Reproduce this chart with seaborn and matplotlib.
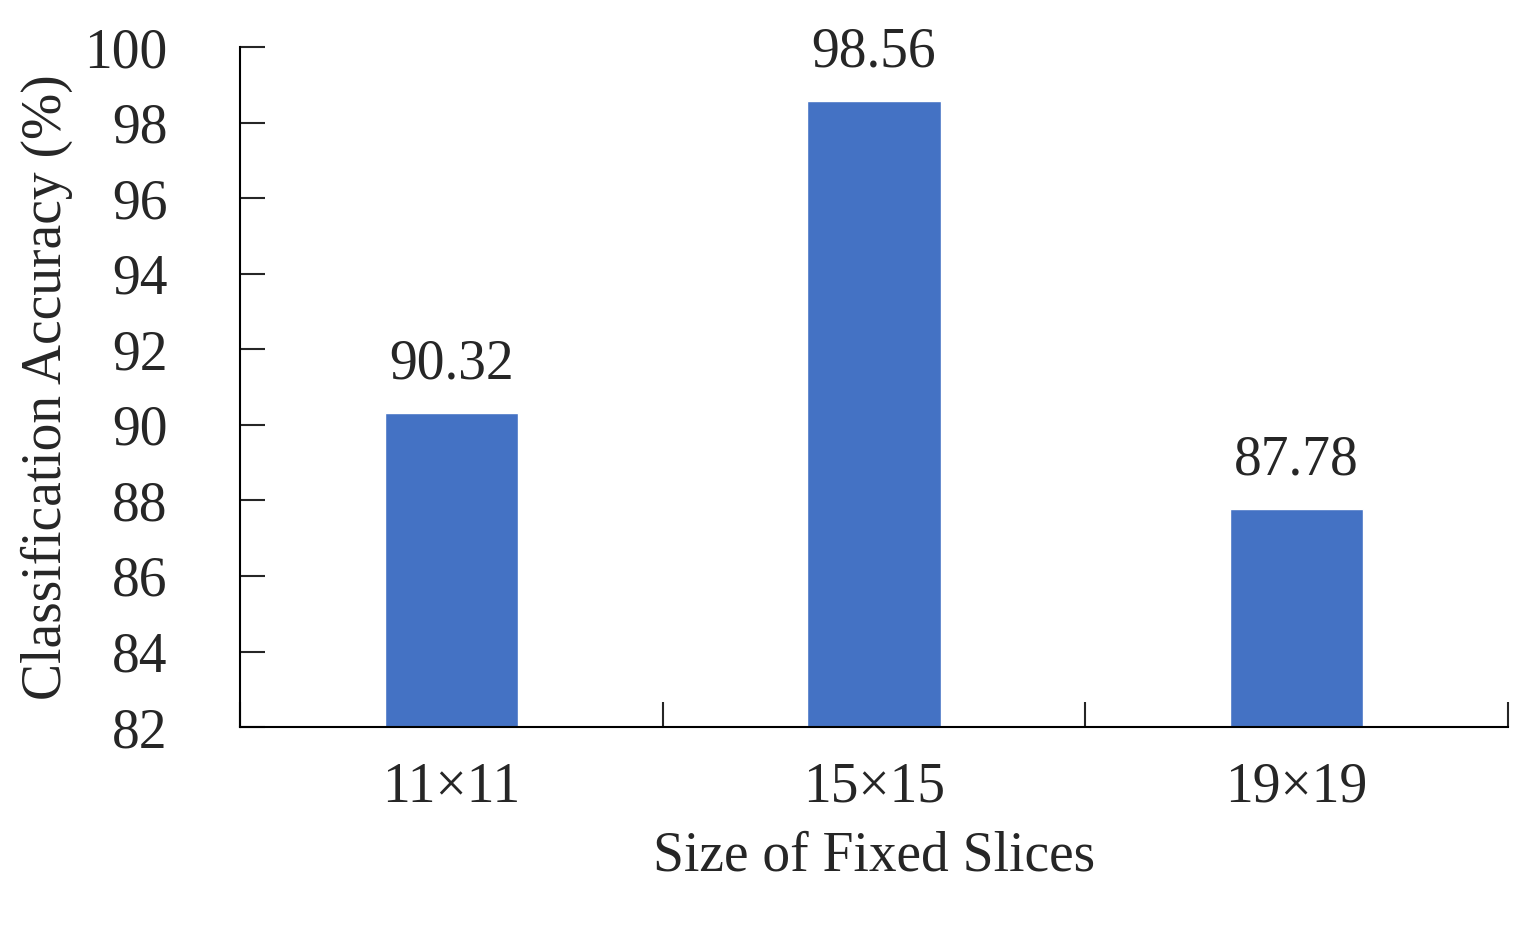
import matplotlib
matplotlib.use("Agg")
import matplotlib.pyplot as plt
import pandas as pd
import seaborn as sns

sizes = ["11×11", "15×15", "19×19"]
accuracy = [90.32, 98.56, 87.78]
y_ticks = [82, 84, 86, 88, 90, 92, 94, 96, 98, 100]

sns.set_style("white")
plt.rcParams["font.family"] = ["Liberation Serif", "DejaVu Serif"]

df = pd.DataFrame({"size": sizes, "acc": accuracy})
fig = plt.figure(figsize=(15.24, 9.31), dpi=100)
ax = fig.add_axes([0.1575, 0.219, 0.832, 0.7305])
sns.barplot(data=df, x="size", y="acc", color="#4472C4", width=0.315,
            saturation=1, ax=ax)

for i, v in enumerate(accuracy):
    ax.text(i, v + 0.6, f"{v:.2f}", ha="center", va="bottom", fontsize=40)

ax.set_ylim(82, 100)
ax.set_xlim(-0.5, 2.5)
ax.set_yticks(y_ticks)
ax.tick_params(axis="y", labelsize=40, direction="in", length=18, width=1.5,
               left=True, pad=50)
for lbl in ax.get_yticklabels():
    lbl.set_horizontalalignment("right")
ax.tick_params(axis="y", pad=52)
ax.set_xticks([-0.5, 0.5, 1.5, 2.5], minor=True)
ax.tick_params(axis="x", which="minor", direction="in", length=18, width=1.5,
               bottom=True)
ax.tick_params(axis="x", which="major", length=0, labelsize=40, pad=25)
for s in ["top", "right"]:
    ax.spines[s].set_visible(False)
for s in ["left", "bottom"]:
    ax.spines[s].set_linewidth(1.5)
    ax.spines[s].set_color("black")

ax.set_xlabel("Size of Fixed Slices", fontsize=40, labelpad=12)
ax.set_ylabel("Classification Accuracy (%)", fontsize=40, labelpad=8)

fig.savefig("out.png", dpi=100)
